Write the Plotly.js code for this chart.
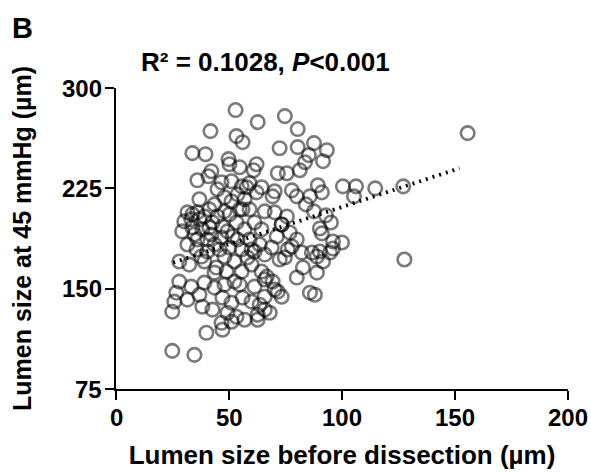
<!DOCTYPE html>
<html>
<head>
<meta charset="utf-8">
<script src="https://cdn.plot.ly/plotly-3.0.1.min.js"></script>
<style>html,body{margin:0;padding:0;background:#fff}#chart{width:591px;height:472px}</style>
</head>
<body>
<div id="chart"></div>
<script>
// Lumen size before dissection (µm)
const lumenBefore = [
52.9,41.8,53.3,56,33.8,39.6,49.8,50.2,54.7,42.2,40.9,36,46.7,51.1,74.7,62.7,80.4,72.4,80.4,87.6,
93.3,85.3,91.6,83.6,62.2,60.9,71.6,75.6,81.3,59.1,64.4,70.2,77.8,89.3,100.4,106.2,114.7,105.3,127.1,155.6,
127.6,85.8,84,87.6,92.9,95.1,90.2,91.1,96,100,96,94.7,88.9,91.6,88.9,80,85.8,88,82.7,86.7,
82.2,77.8,72.4,73.3,70.2,65.8,61.3,76.9,75.6,62.2,69.3,73.3,80,80,91.1,65.8,70.2,73.3,59.1,61.3,
64.4,71.1,61.3,68.9,76,90.2,44.9,53.8,51.1,43.6,33.8,36,33.3,39.1,44.9,50.2,29.3,33.8,38.2,42.7,
47.1,53.3,36,40.4,46.7,51.6,35.6,40.4,45.8,50.2,55.6,37.8,48,28,39.1,44.4,28,33.3,26.7,25.8,
24.9,31.6,36.9,38.2,42.7,39.1,43.6,48,52.4,47.1,51.1,56,49.3,53.3,56.9,46.7,43.6,48.9,55.6,24.9,
34.7,40,47.1,51.1,62.7,60,64.4,66.7,69.3,71.6,65.8,60,63.6,65.8,62.7,68,74.7,55.6,57.8,56,
31.6,36.9,41.3,48,54.7,31.6,43.6,53.8,56.9,59.1,30.2,42.2,49.3,56.9,36.9,48,41.3,34.7,58.2,52.4,
32.4,60,63.6,65.8,54.7
];
// Lumen size at 45 mmHg (µm)
const lumen45 = [
283.5,267.8,264,259.5,251.3,250.5,246.8,243,240.8,237.8,234,231,229.5,230.3,279,274.5,269.3,255,255.8,258.8,
253.5,249.8,245.3,244.5,243,238.5,236.3,236.3,238.5,228.8,225.8,222.8,223.5,227.3,226.5,226.5,225,219,226.5,266.3,
171.8,219,213,207.8,204.8,199.5,195,191.3,185.3,184.5,180,177,174,170.3,162,158.3,147,145.5,165.8,177,
177,181.5,171.8,144,149.3,156.8,151.5,192,204,222,219,198,219,186.8,222,207.8,207,198,209.3,199.5,
194.3,189,177.8,180.8,179.3,177.8,224.3,220.5,215.3,213,205.5,207,201.8,204,204,205.5,192.8,195.8,194.3,199.5,
196.5,199.5,186.8,186.8,188.3,189,179.3,177.8,179.3,180.8,179.3,174,174,170.3,170.3,165.8,155.3,151.5,147,140.3,
132.8,141.8,145.5,136.5,134.3,154.5,150.8,153,155.3,143.3,139.5,143.3,132,129,126.8,124.5,162,162.8,162.8,103.5,
100.5,117,119.3,125.3,126.8,168,162.8,159,155.3,147.8,144,140.3,138,134.3,130.5,132,173.3,226.5,225.8,209.3,
207,201.8,209.3,207.8,209.3,183,183,186.8,194.3,186.8,200.3,190.5,192.8,216.8,216.8,218.3,195.8,190.5,173.3,170.3,
168,179.3,183,175.5,153
];
// Linear fit (dotted line ends)
const trendX = [25.3, 152];
const trendY = [169.5, 240];
const xTicks = [0, 50, 100, 150, 200];
const yTicks = [75, 150, 225, 300];

const FONT = 'Liberation Sans, Arial, sans-serif';

const traces = [
  {
    type: 'scatter', mode: 'markers',
    x: lumenBefore, y: lumen45,
    marker: {symbol: 'circle-open', size: 13.5, color: 'rgba(0,0,0,0.52)', line: {width: 2.6, color: 'rgba(0,0,0,0.52)'}},
    hoverinfo: 'skip', showlegend: false, cliponaxis: false
  },
  {
    type: 'scatter', mode: 'lines',
    x: trendX, y: trendY,
    line: {color: '#000', width: 3.8, dash: '2px,5px'},
    hoverinfo: 'skip', showlegend: false
  }
];

// bold tick labels placed on the axes' own scales
const tickLabelFont = {family: FONT, size: 24, color: '#000'};
const xTickLabels = xTicks.map(v => ({
  text: '<b>' + v + '</b>', xref: 'x', yref: 'paper', x: v, y: -0.043,
  xanchor: 'center', yanchor: 'top', showarrow: false, font: tickLabelFont
}));
const yTickLabels = yTicks.map(v => ({
  text: '<b>' + v + '</b>', xref: 'paper', yref: 'y', x: -0.027, y: v,
  xanchor: 'right', yanchor: 'middle', showarrow: false, font: tickLabelFont
}));

const layout = {
  width: 591, height: 472,
  margin: {l: 116, r: 23, t: 88, b: 83, pad: 0},
  paper_bgcolor: '#fff', plot_bgcolor: '#fff',
  font: {family: FONT, color: '#000'},
  showlegend: false,
  xaxis: {
    range: [0, 200], tickvals: xTicks, showticklabels: false,
    showgrid: false, zeroline: false, showline: true, linecolor: '#000', linewidth: 2,
    ticks: 'outside', ticklen: 9, tickwidth: 2, tickcolor: '#000',
    title: {text: '<b>Lumen size before dissection (µm)</b>', font: {family: FONT, size: 26, color: '#000'}, standoff: 47},
    fixedrange: true
  },
  yaxis: {
    range: [75, 300], tickvals: yTicks, showticklabels: false,
    showgrid: false, zeroline: false, showline: true, linecolor: '#000', linewidth: 2,
    ticks: 'outside', ticklen: 9, tickwidth: 2, tickcolor: '#000',
    title: {text: '<b>Lumen size at 45 mmHg (µm)</b>', font: {family: FONT, size: 25, color: '#000'}, standoff: 66},
    fixedrange: true
  },
  annotations: [
    {text: '<b>B</b>', xref: 'paper', yref: 'paper', x: -0.235, y: 1.199, xanchor: 'left', yanchor: 'middle',
     showarrow: false, font: {family: FONT, size: 29, color: '#000'}},
    {text: '<b>R² = 0.1028, <i>P</i><0.001</b>', xref: 'paper', yref: 'paper', x: 0.05, y: 1.085, xanchor: 'left', yanchor: 'middle',
     showarrow: false, font: {family: FONT, size: 26, color: '#000'}}
  ].concat(xTickLabels, yTickLabels)
};

Plotly.newPlot('chart', traces, layout, {staticPlot: true, displayModeBar: false});
</script>
</body>
</html>
